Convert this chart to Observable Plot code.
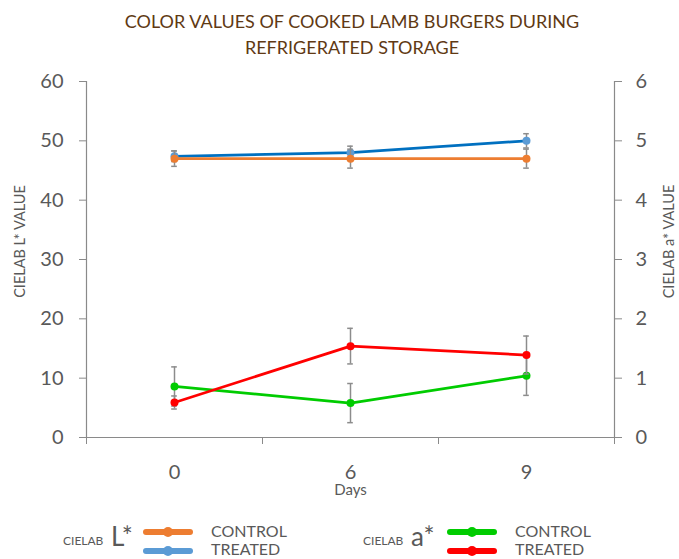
<!DOCTYPE html>
<html>
<head>
<meta charset="utf-8">
<script src="https://cdn.jsdelivr.net/npm/d3@7"></script>
<script src="https://cdn.jsdelivr.net/npm/@observablehq/plot@0.6"></script>
<style>
  body { margin: 0; background: #fff; font-family: Lato, sans-serif; }
  #wrap { position: relative; width: 679px; height: 559px; overflow: hidden; }
  #title { height: 52px; padding-top: 8px; padding-left: 25px; text-align: center; font-size: 18px; line-height: 26px; color: #603913; }
  #chart svg { display: block; }
  .lg { position: absolute; color: #595959; line-height: 1; white-space: nowrap; }
  .sw { position: absolute; height: 6px; width: 50px; border-radius: 3px; }
  .sd { position: absolute; width: 10px; height: 10px; border-radius: 5px; }
</style>
</head>
<body>
<div id="wrap">
  <div id="title">COLOR VALUES OF COOKED LAMB BURGERS DURING<br>REFRIGERATED STORAGE</div>
  <div id="chart"></div>
  <div id="legend"></div>
</div>
<script>
// ---- data ----
const days = ["0", "6", "9"];
const lControl = [47.0, 47.0, 47.0];
const lControlErr = [1.3, 1.6, 1.6];
const lTreated = [47.4, 48.0, 50.0];
const lTreatedErr = [0.9, 1.1, 1.2];
const aControl = [0.86, 0.58, 1.04];
const aControlErr = [0.33, 0.33, 0.33];
const aTreated = [0.59, 1.54, 1.39];
const aTreatedErr = [0.11, 0.30, 0.32];
const leftTicks = [0, 10, 20, 30, 40, 50, 60];
const rightTicks = [0, 1, 2, 3, 4, 5, 6];
const groups = ["L*", "a*"];
const seriesNames = ["CONTROL", "TREATED"];

// ---- styling (separate from data) ----
const RATIO = 10; // right axis (a*) maps onto left axis (L*)
const series = [
  {group: "L*", name: "TREATED", vals: lTreated, errs: lTreatedErr, k: 1, line: "#0070C0", dot: "#5B9BD5", sw: "#5B9BD5"},
  {group: "L*", name: "CONTROL", vals: lControl, errs: lControlErr, k: 1, line: "#ED7D31", dot: "#ED7D31", sw: "#ED7D31"},
  {group: "a*", name: "CONTROL", vals: aControl, errs: aControlErr, k: RATIO, line: "#00CC00", dot: "#00CC00", sw: "#00CC00"},
  {group: "a*", name: "TREATED", vals: aTreated, errs: aTreatedErr, k: RATIO, line: "#FF0000", dot: "#FF0000", sw: "#FF0000"}
];

const errColor = "#8c8c8c";
const axisColor = "#8a8a8a";
const capHalf = 0.016;

const marks = [
  Plot.ruleY([0], {stroke: axisColor, strokeWidth: 1.2}),
  Plot.ruleX([-0.5, days.length - 0.5], {y1: 0, y2: leftTicks[leftTicks.length - 1], stroke: axisColor, strokeWidth: 1.2}),
  Plot.axisX(d3.range(days.length + 1).map(i => i - 0.5), {tickSize: 7, tickFormat: () => "", stroke: axisColor, label: null}),
  Plot.axisX(d3.range(days.length), {tickSize: 0, tickPadding: 27, tickFormat: i => days[i], fontSize: 20, label: null}),
  Plot.axisY(leftTicks, {anchor: "left", tickSize: 7, tickPadding: 16, fontSize: 20, stroke: axisColor, label: null}),
  Plot.axisY(rightTicks.map(t => t * RATIO), {anchor: "right", tickSize: 7, tickPadding: 14, fontSize: 20, stroke: axisColor, tickFormat: d => d / RATIO, label: null}),
  Plot.text(["CIELAB L* VALUE"], {frameAnchor: "left", rotate: -90, dx: -66, dy: -18, fontSize: 14.5, textAnchor: "middle", lineAnchor: "middle"}),
  Plot.text(["CIELAB a* VALUE"], {frameAnchor: "right", rotate: -90, dx: 55, dy: -18, fontSize: 14.5, textAnchor: "middle", lineAnchor: "middle"}),
  Plot.text(["Days"], {frameAnchor: "bottom", dy: 53, fontSize: 15, textAnchor: "middle", lineAnchor: "middle"})
];

for (const s of series) {
  const rows = s.vals.map((v, i) => ({i, v: v * s.k, e: s.errs[i] * s.k}));
  marks.push(
    Plot.line(rows, {x: "i", y: "v", stroke: s.line, strokeWidth: 2.75}),
    Plot.ruleX(rows, {x: "i", y1: d => d.v - d.e, y2: d => d.v + d.e, stroke: errColor, strokeWidth: 1.5}),
    Plot.ruleY(rows, {y: d => d.v + d.e, x1: d => d.i - capHalf, x2: d => d.i + capHalf, stroke: errColor, strokeWidth: 1.5}),
    Plot.ruleY(rows, {y: d => d.v - d.e, x1: d => d.i - capHalf, x2: d => d.i + capHalf, stroke: errColor, strokeWidth: 1.5}),
    Plot.dot(rows, {x: "i", y: "v", r: 4, fill: s.dot, stroke: "none"})
  );
}

const chart = Plot.plot({
  width: 679,
  height: 450,
  marginLeft: 86,
  marginRight: 65,
  marginTop: 21,
  marginBottom: 73,
  x: {domain: [-0.5, days.length - 0.5], label: null},
  y: {domain: [0, leftTicks[leftTicks.length - 1]], label: null},
  style: {fontFamily: "Lato, sans-serif", color: "#595959", background: "transparent", overflow: "visible"},
  marks
});
document.getElementById("chart").appendChild(chart);

// ---- legend (HTML) ----
const legend = document.getElementById("legend");
const groupX = {"L*": 0, "a*": 300};
function add(html) { legend.insertAdjacentHTML("beforeend", html); }
for (const g of groups) {
  const ox = groupX[g];
  add(`<div class="lg" style="left:${63 + ox}px;top:535px;font-size:12px">CIELAB</div>`);
  add(`<div class="lg" style="left:${111 + ox}px;top:523px;font-size:26px">${g}</div>`);
  seriesNames.forEach((n, j) => {
    const s = series.find(d => d.group === g && d.name === n);
    const cy = 532 + j * 19;
    const lx = (g === "L*" ? 143 : 447);
    add(`<div class="sw" style="left:${lx}px;top:${cy - 3}px;background:${s.sw}"></div>`);
    add(`<div class="sd" style="left:${lx + 20}px;top:${cy - 5}px;background:${s.sw}"></div>`);
    add(`<div class="lg" style="left:${lx + 68}px;top:${523 + j * 18}px;font-size:16px">${n}</div>`);
  });
}
</script>
</body>
</html>
